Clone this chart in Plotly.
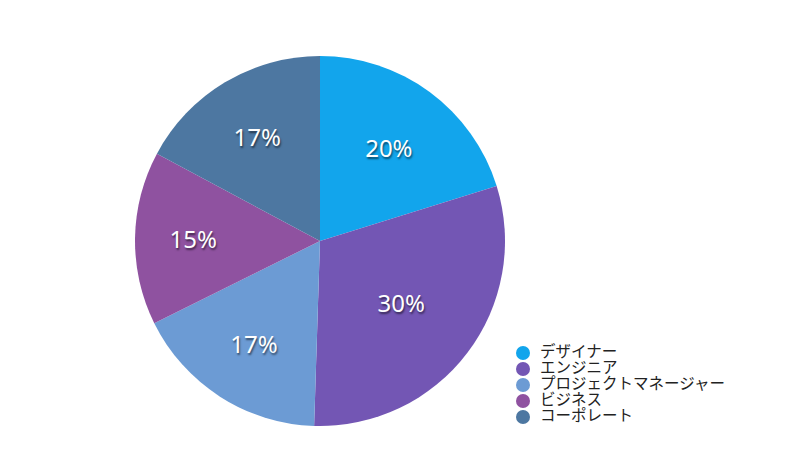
import plotly.graph_objects as go

labels = ["デザイナー", "エンジニア", "プロジェクトマネージャー", "ビジネス", "コーポレート"]
values = [20, 30, 17, 15, 17]
colors = ["#12a5ec", "#7356b4", "#6c9bd4", "#8f52a0", "#4d77a1"]

W, H = 792, 475
OFF = 8  # page body margin


def px(x):
    return (x - OFF) / W


def py(y):
    return 1 - (y - OFF) / H


fig = go.Figure()
fig.add_trace(go.Pie(
    labels=labels, values=values, sort=False, direction="clockwise", rotation=0,
    marker=dict(colors=colors, line=dict(width=0)),
    texttemplate="%{percent:.0%}", textposition="inside",
    insidetextorientation="horizontal",
    textfont=dict(color="white", size=24, family="Noto Sans",
                  shadow="1px 2px 2px rgba(0,0,0,0.55)"),
    domain=dict(x=[px(135), px(505)], y=[py(426), py(56)]),
    showlegend=False, hoverinfo="label+percent",
))

# legend drawn as a category list on its own hidden axes
idx = list(range(len(labels)))
fig.add_trace(go.Scatter(
    x=[0] * len(labels), y=idx, mode="markers",
    marker=dict(symbol="circle", size=14, color=colors),
    xaxis="x2", yaxis="y2", showlegend=False, hoverinfo="skip", cliponaxis=False,
))
fig.add_trace(go.Scatter(
    x=[17] * len(labels), y=idx, mode="text",
    text=labels, textposition="middle right",
    textfont=dict(family="Noto Sans CJK JP", size=15.5, color="#222"),
    xaxis="x2", yaxis="y2", showlegend=False, hoverinfo="text", cliponaxis=False,
))

fig.update_layout(
    width=W, height=H, margin=dict(l=0, r=0, t=0, b=0),
    paper_bgcolor="white", plot_bgcolor="rgba(0,0,0,0)",
    xaxis=dict(visible=False), yaxis=dict(visible=False),
    xaxis2=dict(visible=False, domain=[px(515), px(790)], range=[-8, 267], fixedrange=True),
    yaxis2=dict(visible=False, domain=[py(425), py(345)], range=[4.5, -0.5], fixedrange=True),
    font=dict(family="Noto Sans CJK JP"),
)
fig.write_html("out.html")
